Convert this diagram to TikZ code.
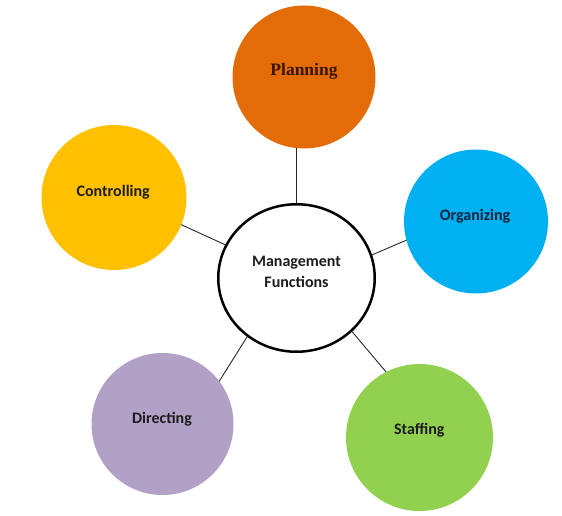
\documentclass[tikz,border=0pt]{standalone}
\usepackage{fontspec}
\setmainfont{Carlito}
\newfontfamily\planfont{Liberation Serif}
\usepackage{xcolor}
\usetikzlibrary{shapes.geometric}

\definecolor{PlanOrange}{HTML}{E36C09}
\definecolor{OrgBlue}{HTML}{00B0F0}
\definecolor{StaffGreen}{HTML}{92D050}
\definecolor{DirPurple}{HTML}{B2A1C7}
\definecolor{CtrlYellow}{HTML}{FFC000}
\definecolor{PlanText}{HTML}{3A1600}
\definecolor{OrgText}{HTML}{0F243E}
\definecolor{DarkText}{HTML}{1C1C1C}

\tikzset{
    bubble/.style={circle, inner sep=0pt, outer sep=0pt, minimum size=#1},
    bubble text/.style={anchor=base, text=DarkText, font=\fontsize{16}{21}\selectfont\bfseries},
    spoke/.style={line width=0.9pt, draw=black!85}
}

\begin{document}
\begin{tikzpicture}[x=1pt, y=-1pt]
    \useasboundingbox (0,0) rectangle (562,516);

    % Reference coordinates
    \coordinate (cMgmt) at (296.5,278);
    \coordinate (cPlan) at (304,77);
    \coordinate (cOrg) at (476,221.5);
    \coordinate (cStaff) at (419.5,437.5);
    \coordinate (cDir) at (162.5,424);
    \coordinate (cCtrl) at (114,197.5);

    % Hub
    \node[ellipse, draw, line width=2.5pt, fill=white, inner sep=0pt, minimum width=156.5pt, minimum height=147.5pt] (mgmt) at (cMgmt) {};
    \node[bubble text, anchor=center, align=center] (mgmtText) at (296.5,271.5) {Management\\Functions};

    % Functions
    \node[bubble=143pt, fill=PlanOrange] (plan) at (cPlan) {};
    \node[bubble=144pt, fill=OrgBlue] (org) at (cOrg) {};
    \node[bubble=147pt, fill=StaffGreen] (staff) at (cStaff) {};
    \node[bubble=142pt, fill=DirPurple] (dir) at (cDir) {};
    \node[bubble=145pt, fill=CtrlYellow] (ctrl) at (cCtrl) {};

    % Labels
    \node[bubble text, text=PlanText, font=\planfont\fontsize{17.5}{21}\selectfont\bfseries] (planText) at (304,76) {Planning};
    \node[bubble text, text=OrgText] (orgText) at (475,220) {Organizing};
    \node[bubble text] (staffText) at (419.3,434.5) {Staffing};
    \node[bubble text] (dirText) at (162,423) {Directing};
    \node[bubble text] (ctrlText) at (113.2,196) {Controlling};

    % Spokes
    \draw[spoke] (plan.264) -- (mgmt.90);
    \draw[spoke] (org.195) -- (mgmt.17);
    \draw[spoke] (staff.117) -- (mgmt.316);
    \draw[spoke] (dir.37) -- (mgmt.230);
    \draw[spoke] (ctrl.338) -- (mgmt.155);
\end{tikzpicture}
\end{document}
